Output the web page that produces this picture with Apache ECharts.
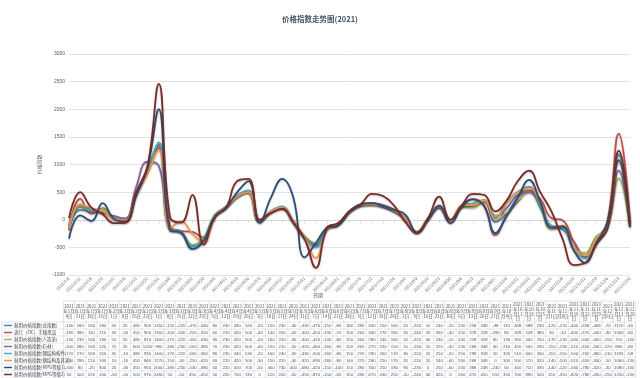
<!DOCTYPE html>
<html lang="zh">
<head>
<meta charset="UTF-8">
<title>价格指数走势图(2021)</title>
<style>
  * { margin: 0; padding: 0; }
  html, body { width: 100%; height: 100%; background: #fff; }
  #main { width: 640px; height: 378px; }
</style>
</head>
<body>
<div id="main"></div>
<script src="https://cdn.jsdelivr.net/npm/echarts@6/dist/echarts.min.js"></script>
<script>
// weekly dates (2021)
var dates = [
  '2021/1/4', '2021/1/11', '2021/1/18', '2021/1/25',
  '2021/2/1', '2021/2/8', '2021/2/15', '2021/2/22',
  '2021/3/1', '2021/3/8', '2021/3/15', '2021/3/22', '2021/3/29',
  '2021/4/5', '2021/4/12', '2021/4/19', '2021/4/26',
  '2021/5/3', '2021/5/10', '2021/5/17', '2021/5/24', '2021/5/31',
  '2021/6/7', '2021/6/14', '2021/6/21', '2021/6/28',
  '2021/7/5', '2021/7/12', '2021/7/19', '2021/7/26',
  '2021/8/2', '2021/8/9', '2021/8/16', '2021/8/23', '2021/8/30',
  '2021/9/6', '2021/9/13', '2021/9/20', '2021/9/27',
  '2021/10/4', '2021/10/11', '2021/10/18', '2021/10/25',
  '2021/11/1', '2021/11/8', '2021/11/15', '2021/11/22', '2021/11/29',
  '2021/12/6', '2021/12/13', '2021/12/20'
];

var names = [
  '耐用价格指数(总指数)',
  '流行（OC）手账纸品',
  '耐用价格指数(人造革)',
  '耐用价格指数(石材)',
  '耐用价格指数(钢结构构件)',
  '耐用价格指数(钢结构及其它)',
  '耐用价格指数(MPG等级1)',
  '耐用价格指数(MPG等级2)'
];

var s1 = [-130, 180, 160, 180, 40, 20, 480, 900, 1350, -150, -220, -470, -340, 80, 240, 430, 520, -20, 150, 230, -40, -330, -470, -150, -80, 160, 280, 300, 250, 160, 20, -220, 10, 240, -20, 240, 258, 348, -38, 110, 408, 588, 230, -120, -170, -400, -658, -408, -70, 1170, -40];
var s2 = [-190, 380, 110, 210, 30, -50, 450, 900, 1300, -100, -200, -220, -320, 60, 220, 420, 500, -40, 140, 200, -20, -300, -450, -130, -70, 150, 260, 300, 270, 180, 30, -240, 20, 260, -40, 250, 378, 258, -280, 80, 328, 528, 380, 30, -10, -400, -670, -440, -30, 1560, -60];
var s3 = [-130, 230, 160, 190, 50, 20, 480, 870, 1400, -170, -220, -450, -330, 90, 230, 420, 500, -20, 160, 220, -30, -300, -420, -140, -80, 150, 260, 280, 240, 160, 20, -220, 30, 230, -10, 240, 218, 328, 80, 130, 350, 500, 250, -170, -130, -500, -600, -300, -150, 750, -130];
var s4 = [-100, 280, 160, 120, 70, 20, 600, 1050, 980, -180, -230, -500, -380, 70, 230, 420, 500, -40, 150, 210, -50, -320, -460, -160, -90, 150, 260, 270, 230, 150, 10, -230, 10, 220, -40, 230, 268, 348, 40, 210, 450, 500, 290, -110, -130, -510, -650, -340, -120, 890, -80];
var s5 = [-170, 270, 160, 150, 30, -10, 480, 930, 1400, -170, -220, -500, -360, 80, 230, 440, 530, -20, 160, 240, -30, -330, -500, -160, -80, 150, 270, 290, 260, 170, 30, -220, 20, 250, -20, 250, 298, 358, 20, 320, 510, 600, 260, -110, -150, -500, -700, -360, -110, 1190, -58];
var s6 = [-160, 280, 210, 160, 10, -10, 450, 840, 1270, -150, -30, -250, -420, 60, 220, 420, 500, -30, 150, 220, -30, -320, -690, -180, -80, 140, 270, 280, 250, 170, 20, -220, 20, 240, -40, 260, 268, 348, 0, 300, 500, 570, 320, -140, -100, -510, -650, -340, -50, 1060, -130];
var s7 = [-340, 80, -20, 300, 20, -30, 450, 950, 2000, -180, -230, -530, -380, 50, 220, 500, 700, -50, 400, 740, 400, -680, -420, -150, -100, 150, 280, 300, 250, 180, 90, -230, 0, 250, -60, 230, 368, 248, -240, 60, 400, 720, 330, -140, -120, -560, -780, -420, -30, 1080, -130];
var s8 = [30, 500, 220, 100, -60, -50, 500, 970, 2460, 50, -50, 450, -450, 50, 220, 700, 740, 0, 120, 200, -50, -350, -870, -150, -60, 150, 280, 470, 430, 250, -50, -240, 30, 420, 0, 260, 470, 450, 150, 350, 700, 890, 500, 150, -350, -820, -780, -450, -150, 1250, -130];

var yTicks = { min: -1000, max: 3000, step: 500 };

var colors = ['#4F81BD', '#C0504D', '#9BBB59', '#8064A2', '#4BACC6', '#F79646', '#2C4D75', '#772C2A'];
var allData = [s1, s2, s3, s4, s5, s6, s7, s8];

var chart = echarts.init(document.getElementById('main'));

var option = {
  animation: false,
  title: {
    text: '价格指数走势图(2021)',
    left: 'center',
    top: 10,
    textStyle: { fontSize: 7.5, fontWeight: 'bold', color: '#44546A', fontFamily: 'Noto Sans CJK SC' }
  },
  grid: { left: 69, right: 10, top: 54, bottom: 103 },
  xAxis: {
    type: 'category',
    data: dates,
    boundaryGap: false,
    axisLine: { lineStyle: { color: '#d9d9d9' } },
    axisTick: { show: true, interval: 0, length: 3, lineStyle: { color: '#d9d9d9' } },
    axisLabel: { interval: 0, rotate: 45, fontSize: 4.3, color: '#6b6b6b', margin: 3 },
    splitLine: { show: false }
  },
  yAxis: {
    type: 'value',
    min: yTicks.min,
    max: yTicks.max,
    interval: yTicks.step,
    name: '价格指数',
    nameLocation: 'middle',
    nameGap: 24,
    nameRotate: 90,
    nameTextStyle: { fontSize: 5, color: '#595959', fontFamily: 'Noto Sans CJK SC' },
    axisLine: { show: false },
    axisTick: { show: false },
    axisLabel: { fontSize: 5, color: '#595959', margin: 4, formatter: function (v) { return String(v); } },
    splitLine: { lineStyle: { color: '#e3e3e3' } }
  },
  series: allData.map(function (d, i) {
    return {
      name: names[i],
      type: 'line',
      data: d,
      smooth: 0.45,
      symbol: 'none',
      lineStyle: {
        width: 1.8,
        color: colors[i],
        shadowColor: 'rgba(0,0,0,0.25)',
        shadowBlur: 2,
        shadowOffsetY: 1
      },
      itemStyle: { color: colors[i] }
    };
  })
};
chart.setOption(option);

// data table under the axis
function headerText(d) {
  var p = d.split('/');
  var rest = '年' + p[1] + '月' + p[2] + '日';
  var lines = [p[0]];
  for (var k = 0; k < rest.length; k += 3) lines.push(rest.slice(k, k + 3));
  return lines.join('\n');
}

function buildTable() {
  var x0 = chart.convertToPixel({ gridIndex: 0 }, [0, 0])[0];
  var x1 = chart.convertToPixel({ gridIndex: 0 }, [1, 0])[0];
  var step = x1 - x0;
  var n = dates.length;
  var left = x0 - step / 2;
  var right = chart.convertToPixel({ gridIndex: 0 }, [n - 1, 0])[0] + step / 2;
  var top = 301, headH = 21, rowH = 7;
  var bottom = top + headH + rowH * allData.length;
  var lineColor = '#cdd5e0';
  var els = [];

  // x axis title
  els.push({
    type: 'text', x: 318, y: 295,
    style: { text: '日期', fontSize: 5, fill: '#595959', align: 'center', verticalAlign: 'middle', fontFamily: 'Noto Sans CJK SC' }
  });

  // horizontal lines
  els.push({ type: 'line', shape: { x1: left, y1: top, x2: right, y2: top }, style: { stroke: lineColor, lineWidth: 0.6 } });
  for (var r = 0; r <= allData.length; r++) {
    var y = top + headH + r * rowH;
    els.push({ type: 'line', shape: { x1: 2, y1: y, x2: right, y2: y }, style: { stroke: lineColor, lineWidth: 0.6 } });
  }
  // vertical lines
  els.push({ type: 'line', shape: { x1: 2, y1: top + headH, x2: 2, y2: bottom }, style: { stroke: lineColor, lineWidth: 0.6 } });
  for (var c = 0; c <= n; c++) {
    var x = left + c * step;
    els.push({ type: 'line', shape: { x1: x, y1: top, x2: x, y2: bottom }, style: { stroke: lineColor, lineWidth: 0.6 } });
  }
  // header
  for (var i = 0; i < n; i++) {
    var cx = chart.convertToPixel({ gridIndex: 0 }, [i, 0])[0];
    els.push({
      type: 'text', x: cx, y: top + headH / 2,
      style: { text: headerText(dates[i]), fontSize: 4.3, lineHeight: 4.8, fill: '#505050', align: 'center', verticalAlign: 'middle', fontFamily: 'Noto Sans CJK SC' }
    });
  }
  // rows
  allData.forEach(function (d, r) {
    var cy = top + headH + r * rowH + rowH / 2;
    els.push({ type: 'line', shape: { x1: 4, y1: cy, x2: 12, y2: cy }, style: { stroke: colors[r], lineWidth: 1.5 } });
    els.push({
      type: 'text', x: 14, y: cy,
      style: { text: names[r], fontSize: 4.5, fill: '#404040', align: 'left', verticalAlign: 'middle', fontFamily: 'Noto Sans CJK SC' }
    });
    d.forEach(function (v, i) {
      var cx = chart.convertToPixel({ gridIndex: 0 }, [i, 0])[0];
      els.push({
        type: 'text', x: cx, y: cy,
        style: { text: String(v), fontSize: 4.3, fill: '#505050', align: 'center', verticalAlign: 'middle' }
      });
    });
  });
  chart.setOption({ graphic: { elements: els } });
}
buildTable();
</script>
</body>
</html>
